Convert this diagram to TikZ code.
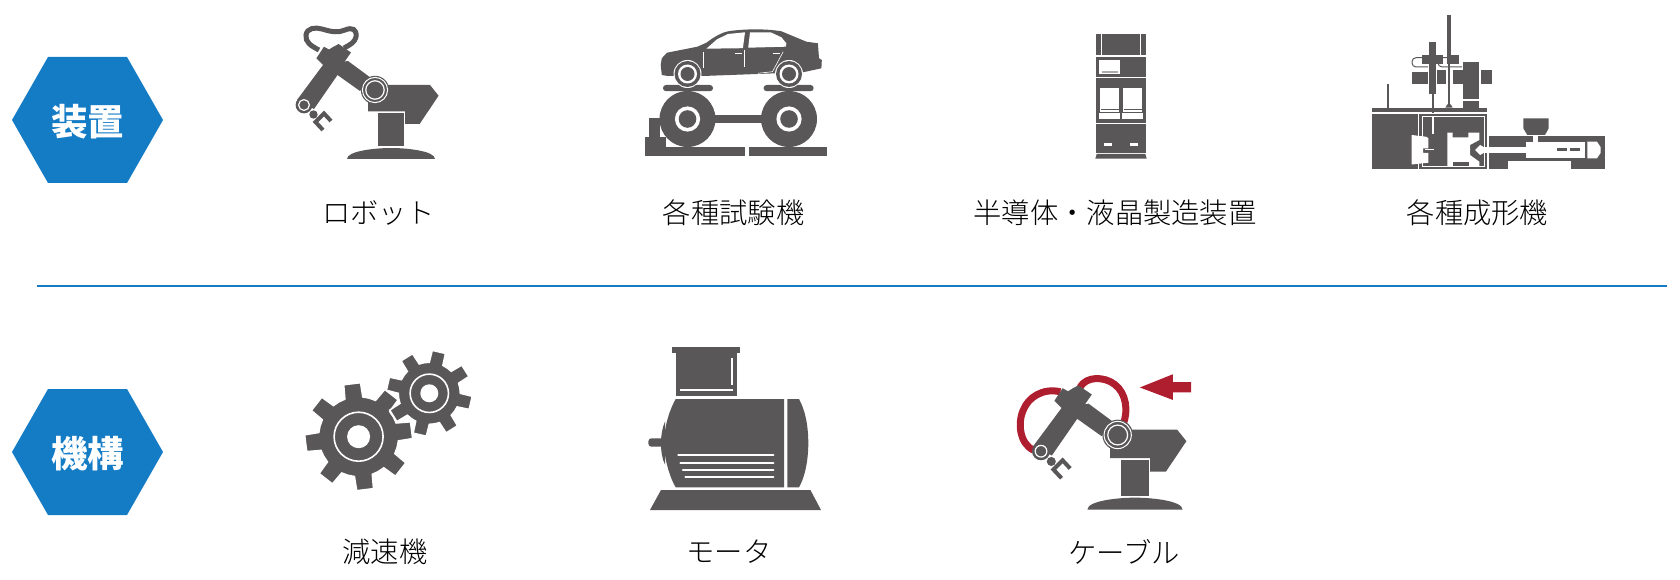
\documentclass[tikz,border=0pt]{standalone}
\usepackage{fontspec}
\setmainfont{Noto Sans CJK JP}
\newfontfamily\lightjp{Noto Sans CJK JP Light}
\definecolor{hexblue}{HTML}{147BC5}
\definecolor{icongray}{HTML}{595757}
\definecolor{cablered}{HTML}{AF1E2E}
\tikzset{
  hexshape/.style={fill=hexblue},
  hexlabel/.style={text=white,font=\fontsize{36.5}{40}\bfseries\selectfont},
  itemlabel/.style={text=black,font=\fontsize{28.3}{32}\lightjp\selectfont},
  icon/.style={fill=icongray},
  cut/.style={fill=white},
  cutline/.style={draw=white,line width=1pt},
}
% robot arm, in the pixel positions of the upper one
\newcommand{\robotarm}{
  \fill[icon] (347,159) .. controls (347,151) and (375,148) .. (391,148) .. controls (407,148) and (435,151) .. (435,159) -- cycle;
  \fill[icon] (378,113) rectangle (404,146.5);
  \fill[icon] (385,85) -- (430,85) -- (438.6,95.7) -- (419.6,124) -- (405,124) -- (405,111.5) -- (368,111.5) -- (368,98) -- cycle;
  \fill[icon] (371,78) -- (348,61) -- (323,65) -- (297,100) -- (314,109) -- (337.5,75) -- (360,91) -- cycle;
  \fill[icon] (316.4,58.3) -- (324,46.7) -- (329,49.5) -- (333,47) -- (338.6,44) -- (351,52.5) -- (343,64) -- (335,66) -- (323,65) -- cycle;
  \fill[icon] (375,90) circle (14.2);
  \draw[cutline] (375,90) circle (12.6);
  \draw[cutline,line width=1.2pt] (375,90) circle (9.2);
  \fill[icon] (304,105) circle (8.4);
  \draw[cutline,line width=1.2pt] (304,105) circle (5.4);
  \fill[icon] (313.5,114.5) circle (4.2);
  \draw[icongray,line width=4pt] (331,121) -- (324,113.5) -- (315.5,122) -- (323,130);
}
% gear: centre, root radius, tip radius, hole, turn
\newcommand{\gearwheel}[5]{
  \begin{scope}[shift={(#1)}]
    \filldraw[icon,draw=white,line width=1.5pt] (#5-22.5:#2)
      \foreach \a in {0,45,...,315} { -- ({#5+\a-13}:#2) -- ({#5+\a-9}:#3) -- ({#5+\a+9}:#3) -- ({#5+\a+13}:#2) -- ({#5+\a+22.5}:#2) } -- cycle;
    \fill[cut] (0,0) circle (#4);
    \draw[cutline,line width=1.6pt] (0,0) circle ({#4*2.13});
  \end{scope}
}
\begin{document}
\begin{tikzpicture}[x=1pt,y=-1pt]
  \useasboundingbox (0,0) rectangle (1680,580);
  %\draw[step=100,gray,very thin] (0,0) grid (1680,580);

  % badges and rule
  \fill[hexshape] (12,120) -- (48,57) -- (127,57) -- (163,120) -- (127,183) -- (48,183) -- cycle;
  \node[hexlabel] (devices) at (87.5,122) {装置};
  \fill[hexshape] (12,452) -- (48,389) -- (127,389) -- (163,452) -- (127,515) -- (48,515) -- cycle;
  \node[hexlabel] (mechanisms) at (87.5,454) {機構};
  \coordinate (ruleL) at (37,286);
  \coordinate (ruleR) at (1667,286);
  \draw[hexblue,line width=1.8pt] (ruleL) -- (ruleR);

  % labels
  \node[itemlabel] (robot) at (378.6,213) {ロボット};
  \node[itemlabel] (tester) at (733.6,213) {各種試験機};
  \node[itemlabel] (fab) at (1115,213) {半導体・液晶製造装置};
  \node[itemlabel] (molder) at (1477.5,213) {各種成形機};
  \node[itemlabel] (reducer) at (385,552) {減速機};
  \node[itemlabel] (motor) at (729,552) {モータ};
  \node[itemlabel] (cable) at (1124,552) {ケーブル};

  % robot with dark cable
  \draw[icongray,line width=5pt] (319,50) .. controls (311,46) and (305,42) .. (306,35) .. controls (307,28) and (315,27) .. (322,29) .. controls (332,32) and (338,33) .. (345,30) .. controls (352,27) and (357,29) .. (356,37) .. controls (355,42) and (350,45) .. (344,48);
  \robotarm

  % car on test rig
  \fill[icon] (645,147) rectangle (744.6,155.7);
  \fill[icon] (749.3,147) rectangle (827,155.7);
  \fill[icon] (645,136.7) rectangle (666,147);
  \fill[icon] (649.3,118) rectangle (660,136.7);
  \fill[icon] (713,115) rectangle (763,123.3);
  \foreach \wx in {687.5,789} {
    \fill[icon] (\wx,119) circle (28);
    \fill[cut] (\wx,119) circle (12.6);
    \fill[icon] (\wx,119) circle (8.8);
  }
  \fill[icon,rounded corners=3] (663,85) rectangle (713,91.2);
  \fill[icon,rounded corners=3] (763.6,85) rectangle (813.6,91.2);
  \fill[icon] (660.7,65) -- (661.8,58.3) -- (667,52.7) -- (697.5,46.7) -- (706.4,42.7) .. controls (714,37) and (722,32) .. (730,31) .. controls (745,29) and (765,28.5) .. (781.4,31.3) -- (806.4,41.7) -- (817.9,43.3) -- (819,58.3) -- (821.8,60) -- (821.4,68.3) -- (802.9,72.3) -- (702.9,76) -- (668,76) -- (661.8,75) -- cycle;
  \fill[cut] (706.4,48.7) -- (717,39.3) -- (728,34) -- (745,32.3) -- (742.9,48.2) -- cycle;
  \fill[cut] (750,32.3) -- (770.7,32.3) -- (781.4,37.3) -- (786.4,43.3) -- (785.7,46.7) -- (748.2,47.7) -- cycle;
  \draw[cutline,line width=.6pt] (702.9,51.7) -- (702.9,68);
  \draw[cutline,line width=.6pt] (744.3,50) -- (744.3,66.7);
  \draw[cutline,line width=.6pt] (783.2,51.7) -- (772.5,71.7) -- (758.2,73.3);
  \draw[cutline,line width=.6pt] (735,53.3) -- (742,53.3);
  \draw[cutline,line width=.6pt] (772.5,53.3) -- (779.6,53.3);
  \foreach \wx in {687.5,789} {
    \fill[cut] (\wx,74) circle (14);
    \fill[icon] (\wx,74) circle (13);
    \fill[cut] (\wx,74) circle (9.5);
    \fill[icon] (\wx,74) circle (7);
  }

  % cabinet
  \fill[icon] (1096,34) rectangle (1146,54.7);
  \draw[cutline] (1101.3,34) -- (1101.3,54.7);
  \draw[cutline] (1140.7,34) -- (1140.7,54.7);
  \fill[icon] (1096,56.7) rectangle (1146,76.7);
  \fill[cut] (1099.3,59.7) rectangle (1120,73.7);
  \fill[icongray!50] (1101.7,71) rectangle (1118,73);
  \fill[icon] (1096,78) rectangle (1146,122.7);
  \fill[cut] (1100.3,87.7) rectangle (1119.3,111.7);
  \fill[cut] (1123.3,87.7) rectangle (1142.3,111.7);
  \draw[icongray,line width=.6pt] (1101,109) -- (1118.6,109);
  \draw[icongray,line width=.6pt] (1124,109) -- (1141.6,109);
  \fill[cut] (1099.3,113.3) rectangle (1120,119);
  \fill[cut] (1122.3,113.3) rectangle (1143.3,119);
  \fill[icon] (1096,124) rectangle (1146,152.7);
  \fill[cut] (1104,143.3) rectangle (1112,146.3);
  \fill[cut] (1130,143.3) rectangle (1138,146.3);
  \fill[icon] (1096.7,154) -- (1145.3,154) -- (1146.7,158.7) -- (1095.3,158.7) -- cycle;

  % molding machine
  \fill[icon] (1447.3,15) rectangle (1450.7,55);
  \fill[icon] (1447.6,55) rectangle (1450.4,105);
  \fill[icon] (1447.3,104.3) -- (1450.7,104.3) -- (1452.7,107.7) -- (1445.3,107.7) -- cycle;
  \fill[icon] (1412,72) -- (1428,72) -- (1428,84.3) -- (1412,84.3) -- cycle;
  \fill[icon] (1437.3,70) rectangle (1446,84.3);
  \fill[icon] (1452.7,70) rectangle (1479.3,84.3);
  \fill[icon] (1481,70) rectangle (1492,84.3);
  \fill[icon] (1463.3,62.3) rectangle (1479.3,99);
  \fill[icon] (1463.3,101) rectangle (1479.3,107.7);
  \fill[icon] (1429.3,41.7) rectangle (1436,94.3);
  \fill[icon] (1431.7,94.3) rectangle (1434,113.3);
  \fill[icon] (1422,55) rectangle (1443.3,64.3);
  \fill[icon] (1447.3,55) rectangle (1459.3,64.3);
  \draw[icongray,line width=1pt,rounded corners=4] (1422,57.7) -- (1412,57.7) -- (1412,67) -- (1428,67);
  \draw[icongray,line width=1pt,rounded corners=4] (1447,57.7) -- (1438,57.7) -- (1438,67) -- (1462,67);
  \fill[icon] (1386.7,83.7) rectangle (1389.3,107.7);
  \fill[icon] (1372,107.7) rectangle (1487.3,112);
  \fill[icon] (1372,114) rectangle (1487.3,168.7);
  \draw[cutline] (1418.7,114) -- (1418.7,168.7);
  \draw[cutline] (1422,116.3) rectangle (1484,166.3);
  \fill[cut] (1411.7,135) -- (1425.7,136.7) -- (1428.3,138) -- (1428.3,148.3) -- (1423,148.3) -- (1423,153) -- (1428.3,153) -- (1428.3,162.7) -- (1411.7,164.5) -- cycle;
  \draw[cutline,line width=.8pt] (1425,149.5) -- (1434,149.5);
  \draw[cutline,line width=1.4pt] (1432.8,116.5) -- (1432.8,134);
  \fill[cut] (1447.3,132.7) -- (1452.7,132.7) -- (1452.7,137.3) -- (1468.3,137.3) -- (1468.3,132.7) -- (1479.3,132.7) -- (1479.3,140) -- (1470,145) -- (1470,155) -- (1479.3,161.7) -- (1479.3,166) -- (1447.3,166) -- cycle;
  \fill[icon] (1453.3,161.7) rectangle (1469,165.7);
  \fill[cut] (1475,150) -- (1480,145) -- (1483.3,146.7) -- (1483.3,153.3) -- (1480,155) -- cycle;
  \fill[icon] (1489.3,136) rectangle (1605,169);
  \fill[cut] (1483.3,146.7) rectangle (1526,153.3);
  \fill[cut] (1526,141.7) rectangle (1585,158.3);
  \fill[cut] (1533.3,134) rectangle (1538.3,141.7);
  \fill[icon] (1557.3,148.3) rectangle (1567.3,151);
  \fill[icon] (1570,148.3) rectangle (1580,151);
  \fill[cut] (1587.3,141.7) -- (1597,141.7) -- (1600.5,147) -- (1600.5,153) -- (1597,158.3) -- (1587.3,158.3) -- cycle;
  \fill[cut] (1508.3,160.7) rectangle (1570.7,169.5);
  \fill[icon] (1523.3,118.3) -- (1548.7,118.3) -- (1548.7,128.3) -- (1545,135) -- (1527.3,135) -- (1523.3,128.3) -- cycle;

  % gears
  \gearwheel{358.6,436.7}{40}{54}{11.5}{-7}
  \gearwheel{429.3,393.3}{31}{43}{9}{-32}

  % motor
  \fill[icon] (672.4,347) rectangle (740,352.7);
  \fill[icon] (675.7,352.7) rectangle (737.2,396);
  \draw[cutline,line width=1.6pt] (731.7,358.3) -- (731.7,385);
  \draw[cutline,line width=1.6pt] (680,390) -- (733,390);
  \fill[icon,rounded corners=3] (648.4,438.3) rectangle (668,446.7);
  \fill[icon] (665.2,421) .. controls (662,428) and (661,436) .. (661,443) .. controls (661,451) and (662,459) .. (665.2,465) -- cycle;
  \fill[icon] (675.7,399) -- (784,399) -- (784,487.3) -- (675.7,487.3) .. controls (671,480) and (664,460) .. (664,443) .. controls (664,425) and (671,407) .. (675.7,399) -- cycle;
  \fill[icon] (787.3,399) -- (799,399) .. controls (805,410) and (808.3,425) .. (808.3,443.3) .. controls (808.3,460) and (805,477) .. (799,487.3) -- (787.3,487.3) -- cycle;
  \foreach \sy/\sx in {455.3/678.3,462.7/680.4,470/683,477.3/685.4}
    \draw[cutline,line width=2.2pt,line cap=round] (\sx,\sy) -- (773.4,\sy);
  \fill[icon] (661,490) -- (810.4,490) -- (821,510) -- (650,510) -- cycle;

  % robot with red cable
  \begin{scope}[shift={(712.7,337.8)},scale=1.08]
    \draw[cablered,line width=7pt] (297,104) .. controls (284,98) and (282,78) .. (288,66) .. controls (292,56) and (305,46) .. (322,50);
    \draw[cablered,line width=7pt] (340,46) .. controls (346,35) and (363,36) .. (372,43) .. controls (383,51) and (385,68) .. (380,80);
    \robotarm
    \fill[cablered] (395.5,46) -- (426,33.8) -- (426,41) -- (443,41) -- (443,50.5) -- (426,50.5) -- (426,57.5) -- cycle;
  \end{scope}
\end{tikzpicture}
\end{document}
